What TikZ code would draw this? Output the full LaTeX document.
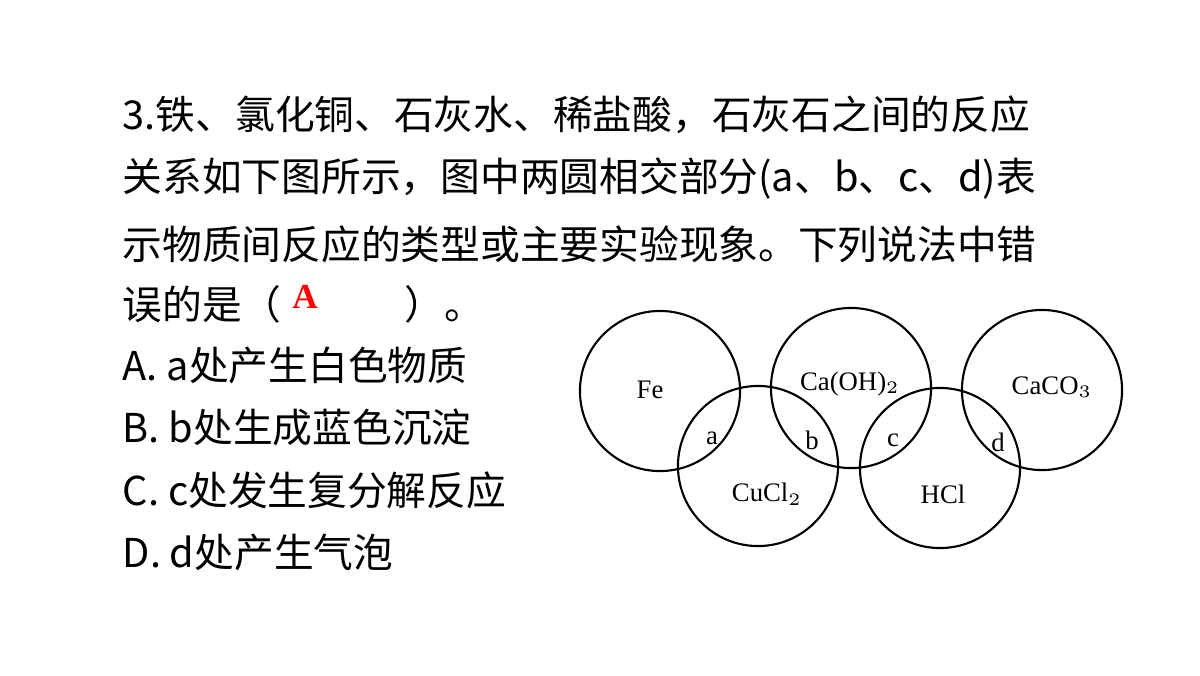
\documentclass[tikz,border=0pt]{standalone}
\usepackage{fontspec}
\setmainfont{Liberation Serif}
\newfontfamily\cjk{Noto Sans CJK SC}
\usetikzlibrary{positioning}
\tikzset{
  ring/.style={draw, semithick, circle, minimum size=1.6cm, inner sep=0},
  qline/.style={anchor=west, font=\cjk\fontsize{11.3}{13}\selectfont, inner sep=0},
  chem/.style={font=\fontsize{7.6}{9}\selectfont},
}
\begin{document}
\begin{tikzpicture}[x=0.01cm, y=-0.01cm]
  \useasboundingbox (0,0) rectangle (1200,675);
  % question text
  \node[qline] (q1) at (122,115) {3.铁、氯化铜、石灰水、稀盐酸，石灰石之间的反应};
  \node[qline] (q2) at (122,179) {关系如下图所示，图中两圆相交部分(a、b、c、d)表};
  \node[qline] (q3) at (122,244) {示物质间反应的类型或主要实验现象。下列说法中错};
  \node[qline] (q4) at (122,304) {误的是（\hspace{3.1em}）。};
  \node[red, font=\bfseries\fontsize{10}{12}\selectfont] (ans) at (305,297) {A};
  \node[qline] (oa) at (122,365) {A. a处产生白色物质};
  \node[qline] (ob) at (122,427) {B. b处生成蓝色沉淀};
  \node[qline] (oc) at (122,490) {C. c处发生复分解反应};
  \node[qline] (od) at (122,552) {D. d处产生气泡};
  % circles
  \node[ring] (fe) at (660,391) {};
  \node[ring] (caoh) at (851,388) {};
  \node[ring] (caco) at (1042,390) {};
  \node[ring] (cucl) at (758,466) {};
  \node[ring] (hcl) at (940,468) {};
  % labels
  \node[chem] at (650,390) {Fe};
  \node[chem] at (850,384) {Ca(OH)$_2$};
  \node[chem] at (1052,387) {CaCO$_3$};
  \node[chem] at (767,494) {CuCl$_2$};
  \node[chem] at (943,494) {HCl};
  \node[chem] at (712,438) {a};
  \node[chem] at (812,440) {b};
  \node[chem] at (893,440) {c};
  \node[chem] at (998,442) {d};
\end{tikzpicture}
\end{document}
